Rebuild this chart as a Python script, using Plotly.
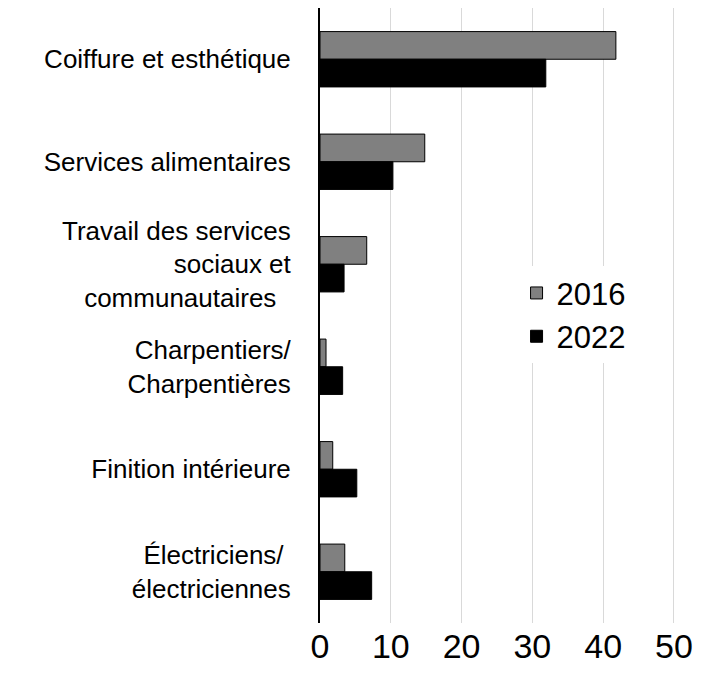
import plotly.graph_objects as go

categories = ["Coiffure et esthétique", "Services alimentaires",
              "Travail des services<br>sociaux et<br>communautaires  ",
              "Charpentiers/<br>Charpentières", "Finition intérieure",
              "Électriciens/ <br>électriciennes"]
values_2016 = [41.8, 14.8, 6.6, 0.85, 1.8, 3.5]
values_2022 = [31.9, 10.3, 3.4, 3.2, 5.2, 7.3]
x_ticks = [0, 10, 20, 30, 40, 50]

fig = go.Figure()
fig.add_trace(go.Bar(y=categories, x=values_2016, orientation="h", name="2016",
                     marker=dict(color="#808080", line=dict(color="black", width=1))))
fig.add_trace(go.Bar(y=categories, x=values_2022, orientation="h", name="2022",
                     marker=dict(color="black", line=dict(color="black", width=1))))

fig.update_layout(
    width=709, height=685,
    barmode="group", bargap=0.46, bargroupgap=0,
    plot_bgcolor="white", paper_bgcolor="white",
    font=dict(family="Liberation Sans, Arial", color="black"),
    margin=dict(l=312, r=19, t=0, b=70),
    legend=dict(x=0.52, y=0.58, xanchor="left", yanchor="top",
                font=dict(size=31), itemwidth=30, tracegroupgap=10),
)
fig.update_xaxes(range=[0, 53.4], tickvals=x_ticks, tickfont=dict(size=34),
                 showgrid=True, gridcolor="#d9d9d9", zeroline=False, ticks="",
                 automargin=False)
fig.update_yaxes(autorange="reversed", tickfont=dict(size=26), showline=True,
                 linecolor="black", linewidth=2, ticks="", ticklabelstandoff=22,
                 automargin=False)

fig.write_html("out.html")
